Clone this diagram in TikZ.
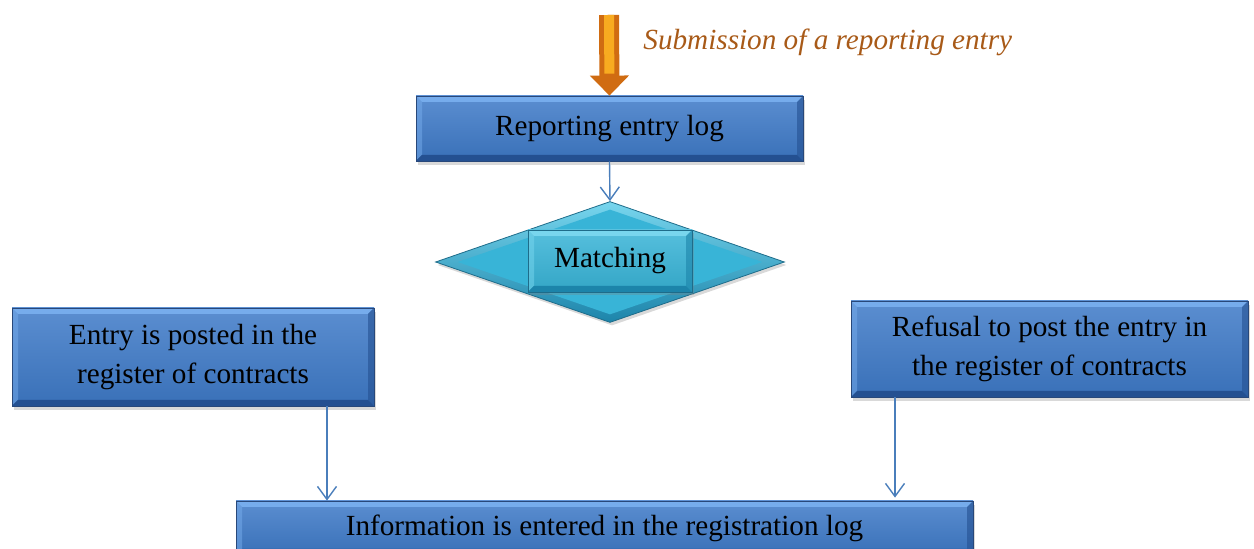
\documentclass[tikz,border=0pt]{standalone}
\usepackage{fontspec}
\setmainfont{Liberation Serif}
\usetikzlibrary{shapes.geometric,shadows,arrows.meta}
\definecolor{boxblue}{RGB}{62,122,200}
\definecolor{boxlight}{RGB}{118,172,236}
\definecolor{boxdark}{RGB}{36,80,145}
\definecolor{boxedge}{RGB}{40,72,122}
\definecolor{diacyan}{RGB}{56,180,215}
\definecolor{dialight}{RGB}{120,214,238}
\definecolor{diadark}{RGB}{28,132,170}
\definecolor{diaedge}{RGB}{30,108,138}
\definecolor{linkblue}{RGB}{74,126,187}
\definecolor{subarrow}{RGB}{246,150,40}
\definecolor{subarrowdark}{RGB}{208,108,18}
\definecolor{subtext}{RGB}{168,90,24}
\newcommand\ppbb{path picture bounding box}

\begin{document}
\begin{tikzpicture}[x=0.5pt, y=-0.5pt,
  boxbevel/.style 2 args={path picture={
    \fill[#1] (\ppbb.north west) -- (\ppbb.north east) -- ([shift={(-3pt,-3pt)}]\ppbb.north east) -- ([shift={(3pt,-3pt)}]\ppbb.north west) -- cycle;
    \fill[#1, opacity=0.5] (\ppbb.north west) -- ([shift={(3pt,-3pt)}]\ppbb.north west) -- ([shift={(3pt,3pt)}]\ppbb.south west) -- (\ppbb.south west) -- cycle;
    \fill[#2] (\ppbb.south west) -- (\ppbb.south east) -- ([shift={(-3pt,3pt)}]\ppbb.south east) -- ([shift={(3pt,3pt)}]\ppbb.south west) -- cycle;
    \fill[#2, opacity=0.6] (\ppbb.north east) -- ([shift={(-3pt,-3pt)}]\ppbb.north east) -- ([shift={(-3pt,3pt)}]\ppbb.south east) -- (\ppbb.south east) -- cycle;
  }},
  flowtext/.style={font=\fontsize{14.6}{19.5}\selectfont, align=center, text=black},
  bluebox/.style={rectangle, draw=boxedge, line width=0.4pt, inner sep=2pt,
    top color=boxblue!85!white, bottom color=boxblue!92!black,
    drop shadow={shadow xshift=1.2pt, shadow yshift=-1.8pt, opacity=0.3},
    boxbevel={boxlight}{boxdark}, flowtext},
  cyanbox/.style={rectangle, draw=diaedge, line width=0.4pt, inner sep=2pt,
    top color=diacyan!85!white, bottom color=diacyan!92!black,
    drop shadow={shadow xshift=1pt, shadow yshift=-1.5pt, opacity=0.3},
    boxbevel={dialight}{diadark}, flowtext},
  link/.style={linkblue, line width=0.7pt, -{Straight Barb[length=6.5pt, width=9.5pt]}}
]
  \useasboundingbox (0,0) rectangle (1254,549);
  \clip (0,0) rectangle (1254,549);

  % incoming entry
  \coordinate (subm) at (609,15);
  \node[anchor=west, inner sep=0pt, text=subtext, font=\itshape\fontsize{14.6}{17}\selectfont] (sublabel) at (643,42) {Submission of a reporting entry};

  % boxes
  \node[bluebox, minimum width=193.5pt, minimum height=32.5pt] (report) at (609.5,128.5) {Reporting entry log};
  \node[diamond, aspect=2.88, minimum width=174.5pt, minimum height=60.5pt, inner sep=0pt,
    draw=diaedge, line width=0.4pt, top color=dialight, bottom color=diadark,
    drop shadow={shadow xshift=1pt, shadow yshift=-1.5pt, opacity=0.3},
    path picture={\fill[diacyan] ([yshift=-4pt]\ppbb.north) -- ([xshift=-11pt]\ppbb.east) -- ([yshift=4pt]\ppbb.south) -- ([xshift=11pt]\ppbb.west) -- cycle;}] (match) at (610,262) {};
  \node[cyanbox, minimum width=82pt, minimum height=31pt] (matchtext) at (610,261) {Matching};
  \node[bluebox, minimum width=181pt, minimum height=49pt] (posted) at (193,357) {Entry is posted in the\\register of contracts};
  \node[bluebox, minimum width=198.5pt, minimum height=48pt] (refusal) at (1049.5,349) {Refusal to post the entry in\\the register of contracts};
  \node[bluebox, minimum width=368.5pt, minimum height=27pt] (info) at (604.5,528) {Information is entered in the registration log};

  % connectors
  \draw[line width=10pt, subarrowdark, -{Triangle[length=10pt, width=19pt]}] (subm) -- (report.north);
  \draw[line width=5pt, subarrow!80!yellow, shorten >=11pt] (subm) -- (report.north);
  \draw[link] (report.south) -- (match.north);
  \draw[link] ([xshift=67pt]posted.south) -- ([xshift=67pt]posted.south |- info.north);
  \draw[link] ([xshift=-77.25pt]refusal.south) -- ([xshift=-77.25pt,yshift=1.5pt]refusal.south |- info.north);
\end{tikzpicture}
\end{document}
